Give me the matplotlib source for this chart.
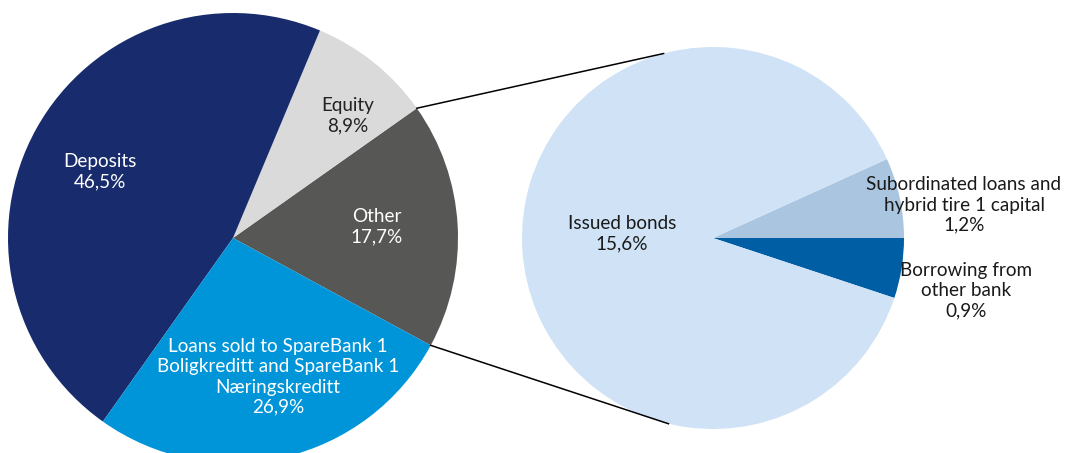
import numpy as np
import matplotlib.pyplot as plt

# left pie: share of total funding (%)
main_labels = ["Other", "Equity", "Deposits",
               "Loans sold to SpareBank 1\nBoligkreditt and SpareBank 1\nNæringskreditt"]
main_values = [17.7, 8.9, 46.5, 26.9]
main_text = ["17,7%", "8,9%", "46,5%", "26,9%"]
main_colors = ["#575756", "#d9dad9", "#172b6d", "#0095d9"]
main_txtcol = ["white", "#222222", "white", "white"]

# right pie: breakdown of "Other"
sub_labels = ["Borrowing from\nother bank", "Subordinated loans and\nhybrid tire 1 capital", "Issued bonds"]
sub_values = [0.9, 1.2, 15.6]
sub_text = ["0,9%", "1,2%", "15,6%"]
sub_colors = ["#005ea5", "#a9c5e0", "#cfe2f6"]

W, H = 1071, 453
fig = plt.figure(figsize=(W / 100, H / 100), dpi=100)
ax = fig.add_axes([0, 0, 1, 1])

c1, r1 = (233, 215), 225
c2, r2 = (713, 215), 191
start1 = -28.5
start2 = -18.3

w1, _ = ax.pie(main_values, center=c1, radius=r1, startangle=start1,
               colors=main_colors, wedgeprops={'linewidth': 0}, frame=True)
w2, _ = ax.pie(sub_values, center=c2, radius=r2, startangle=start2,
               colors=sub_colors, wedgeprops={'linewidth': 0}, frame=True)
ax.set_xlim(0, W)
ax.set_ylim(0, H)
ax.set_aspect('equal')
ax.axis('off')

font = dict(family="Lato", fontsize=13.6,
            ha='center', va='center', linespacing=1.22)

# label positions (pixels, y up)
main_pos = [(377, 226), (348, 337), (100, 281), (278, 76)]
for lab, t, pos, col in zip(main_labels, main_text, main_pos, main_txtcol):
    ax.text(pos[0], pos[1], lab + "\n" + t, color=col, **font)

sub_pos = [(966, 162), (964, 248), (622, 219)]
for lab, t, pos in zip(sub_labels, sub_text, sub_pos):
    ax.text(pos[0], pos[1], lab + "\n" + t, color="#1a1a1a", **font)

# connector lines between "Other" and the breakdown pie
oth = w1[0]
for a1, a2 in [(oth.theta2, 105), (oth.theta1, -103.5)]:
    p1 = (c1[0] + r1 * np.cos(np.radians(a1)), c1[1] + r1 * np.sin(np.radians(a1)))
    p2 = (c2[0] + r2 * np.cos(np.radians(a2)), c2[1] + r2 * np.sin(np.radians(a2)))
    ax.plot([p1[0], p2[0]], [p1[1], p2[1]], color="black", lw=1.1)

plt.savefig("out.png", dpi=100)
